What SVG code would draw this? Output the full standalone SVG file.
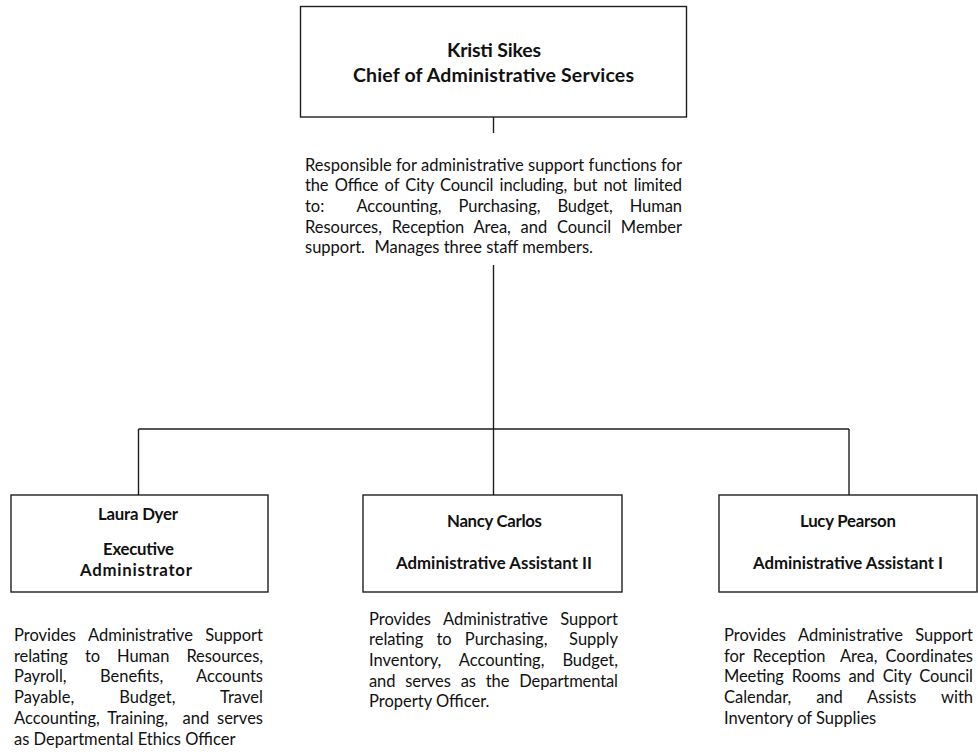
<svg xmlns="http://www.w3.org/2000/svg" width="978" height="754" viewBox="0 0 978 754">
<style>
.box{fill:#fff;stroke:#1e1e1e;stroke-width:1.4}
.ln{stroke:#1e1e1e;stroke-width:1.4;fill:none}
text{font-family:Lato,"Open Sans","Liberation Sans",sans-serif;fill:#111}
.p{font-size:16.5px}
.t{font-size:16.8px;font-weight:700;text-anchor:middle}
.h{font-size:19.5px;font-weight:700;text-anchor:middle}
.e{text-anchor:end}
</style>
<rect width="978" height="754" fill="#fff"/>
<g id="connectors">
<line class="ln" x1="493.5" y1="117" x2="493.5" y2="133"/>
<line class="ln" x1="493.5" y1="265" x2="493.5" y2="495"/>
<line class="ln" x1="138.5" y1="429" x2="849" y2="429"/>
<line class="ln" x1="138.5" y1="429" x2="138.5" y2="495"/>
<line class="ln" x1="849" y1="429" x2="849" y2="495"/>
</g>
<g id="node-kristi">
<rect class="box" x="300.5" y="6.5" width="386" height="110.5"/>
<text class="h" x="494" y="57" textLength="94" lengthAdjust="spacing">Kristi Sikes</text>
<text class="h" x="493.5" y="82" textLength="281" lengthAdjust="spacing">Chief of Administrative Services</text>
<text class="p" x="305" y="170.5" textLength="377" lengthAdjust="spacing">Responsible for administrative support functions for</text>
<text class="p" x="305" y="191.2" word-spacing="2.2" textLength="377" lengthAdjust="spacing">the Office of City Council including, but not limited</text>
<text class="p" x="305" y="211.9">to:</text>
<text class="p" x="356.4" y="211.9" word-spacing="12.9" textLength="325.6" lengthAdjust="spacing">Accounting, Purchasing, Budget, Human</text>
<text class="p" x="305" y="232.6" word-spacing="5.6" textLength="377" lengthAdjust="spacing">Resources, Reception Area, and Council Member</text>
<text class="p" x="305" y="253.3">support.</text>
<text class="p" x="374.5" y="253.3">Manages three staff members.</text>
</g>
<g id="node-laura">
<rect class="box" x="11" y="495" width="257" height="97"/>
<text class="t" x="138" y="520" textLength="80" lengthAdjust="spacing">Laura Dyer</text>
<text class="t" x="138.5" y="555" textLength="71" lengthAdjust="spacing">Executive</text>
<text class="t" x="136" y="575.7" textLength="112" lengthAdjust="spacing">Administrator</text>
<text class="p" x="14" y="641" word-spacing="8.3" textLength="249" lengthAdjust="spacing">Provides Administrative Support</text>
<text class="p" x="14" y="661.7" word-spacing="12.9" textLength="249" lengthAdjust="spacing">relating to Human Resources,</text>
<text class="p" x="14" y="682.4" word-spacing="29.2" textLength="249" lengthAdjust="spacing">Payroll, Benefits, Accounts</text>
<text class="p" x="14" y="703.1" word-spacing="40.6" textLength="249" lengthAdjust="spacing">Payable, Budget, Travel</text>
<text class="p" x="14" y="723.8" word-spacing="3.8">Accounting, Training,</text>
<text class="p e" x="263" y="723.8" word-spacing="3.6">and serves</text>
<text class="p" x="14" y="744.5">as Departmental Ethics Officer</text>
</g>
<g id="node-nancy">
<rect class="box" x="363" y="495" width="259" height="97"/>
<text class="t" x="494.5" y="527.3" textLength="95" lengthAdjust="spacing">Nancy Carlos</text>
<text class="t" x="494" y="569.3" textLength="196" lengthAdjust="spacing">Administrative Assistant II</text>
<text class="p" x="369" y="624.5" word-spacing="8.3" textLength="249" lengthAdjust="spacing">Provides Administrative Support</text>
<text class="p" x="369" y="645.2" word-spacing="8.9">relating to Purchasing,</text>
<text class="p e" x="618" y="645.2">Supply</text>
<text class="p" x="369" y="665.9" word-spacing="13.8" textLength="249" lengthAdjust="spacing">Inventory, Accounting, Budget,</text>
<text class="p" x="369" y="686.6" word-spacing="5.85" textLength="249" lengthAdjust="spacing">and serves as the Departmental</text>
<text class="p" x="369" y="707.3">Property Officer.</text>
</g>
<g id="node-lucy">
<rect class="box" x="719" y="495" width="258" height="97"/>
<text class="t" x="848" y="526.7" textLength="96" lengthAdjust="spacing">Lucy Pearson</text>
<text class="t" x="848" y="569.3" textLength="190" lengthAdjust="spacing">Administrative Assistant I</text>
<text class="p" x="724" y="641" word-spacing="8.3" textLength="249" lengthAdjust="spacing">Provides Administrative Support</text>
<text class="p" x="724" y="661.7" word-spacing="3.9">for Reception</text>
<text class="p e" x="973" y="661.7" word-spacing="3.9">Area, Coordinates</text>
<text class="p" x="724" y="682.4" word-spacing="3.8" textLength="249" lengthAdjust="spacing">Meeting Rooms and City Council</text>
<text class="p" x="724" y="703.1" word-spacing="20.8" textLength="249" lengthAdjust="spacing">Calendar, and Assists with</text>
<text class="p" x="724" y="723.8">Inventory of Supplies</text>
</g>
</svg>
